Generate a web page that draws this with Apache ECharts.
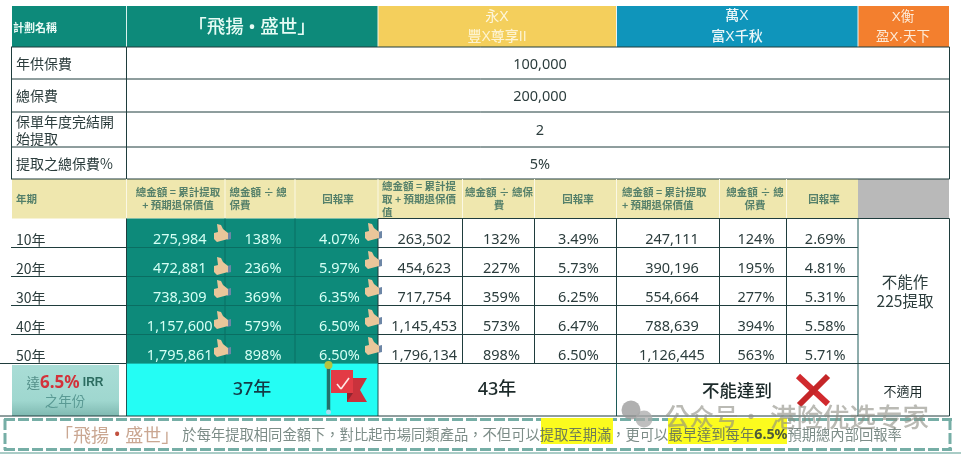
<!DOCTYPE html>
<html>
<head>
<meta charset="utf-8">
<style>
  html, body { margin: 0; padding: 0; background: #fff; }
  #chart { width: 961px; height: 454px; }
</style>
<script src="https://cdn.jsdelivr.net/npm/echarts@6/dist/echarts.min.js"></script>
</head>
<body>
<div id="chart"></div>
<script>
// ==================== Data ====================
var planTitle = '「飛揚 • 盛世」';
var rowHead = '計劃名稱';
var paramLabels = ['年供保費', '總保費', '保單年度完結開\n始提取', '提取之總保費%'];
var paramValues = ['100,000', '200,000', '2', '5%'];
var periodHead = '年期';
var years = ['10年', '20年', '30年', '40年', '50年'];

var feiyangTotal = ['275,984', '472,881', '738,309', '1,157,600', '1,795,861'];
var feiyangRatio = ['138%', '236%', '369%', '579%', '898%'];
var feiyangRate = ['4.07%', '5.97%', '6.35%', '6.50%', '6.50%'];
var yongTotal = ['263,502', '454,623', '717,754', '1,145,453', '1,796,134'];
var yongRatio = ['132%', '227%', '359%', '573%', '898%'];
var yongRate = ['3.49%', '5.73%', '6.25%', '6.47%', '6.50%'];
var wanTotal = ['247,111', '390,196', '554,664', '788,639', '1,126,445'];
var wanRatio = ['124%', '195%', '277%', '394%', '563%'];
var wanRate = ['2.69%', '4.81%', '5.31%', '5.58%', '5.71%'];

var yearsTo65 = ['37年', '43年', '不能達到', '不適用'];
var noWithdraw = '不能作\n225提取';

// ==================== Layout ====================
var colX = [12, 126.5, 225, 295, 378, 462.5, 534.5, 616.5, 719.5, 786.5, 858, 949.5];
var rowY = [6, 47, 79, 112, 147, 179, 218.5, 247.5, 276.5, 305.5, 334.5, 363.5, 416];
var thumbY1 = [224, 257, 280, 311, 339];
var thumbY3 = [223, 251, 279, 309, 337];

var CJK = '"Noto Sans CJK TC", "Noto Sans", sans-serif';
var NUM = '"Noto Sans", "Noto Sans CJK TC", sans-serif';
var LAT = '"Liberation Sans", "Noto Sans CJK TC", sans-serif';
var ink = '#2c3d3d';
var rule = '#1f3d3d';
var teal = '#0d8a7a';
var tealRule = '#0a6e62';
var soft = '#efe7ae';

var marks = [];
function rect(x0, y0, x1, y1, fill) { marks.push({ k: 'rect', x0: x0, y0: y0, x1: x1, y1: y1, fill: fill }); }
function line(x0, y0, x1, y1, color, w, dash) { marks.push({ k: 'line', x0: x0, y0: y0, x1: x1, y1: y1, color: color, w: w || 1, dash: dash }); }
function text(x, y, str, size, color, opt) {
  opt = opt || {};
  marks.push({ k: 'text', x: x, y: y, str: str, size: size, color: color, align: opt.align || 'center', weight: opt.weight || 'normal', font: opt.font || CJK, lh: opt.lh, rich: opt.rich });
}
function poly(pts, fill) { marks.push({ k: 'poly', pts: pts, fill: fill }); }
function dot(x, y, r, fill) { marks.push({ k: 'dot', x: x, y: y, r: r, fill: fill }); }

// ==================== Top header ====================
rect(colX[0], rowY[0], colX[1], rowY[1], teal);
rect(colX[1], rowY[0], colX[4], rowY[1], teal);
rect(colX[4], rowY[0], colX[7], rowY[1], '#f4cf5c');
rect(colX[7], rowY[0], colX[10], rowY[1], '#0f95bb');
rect(colX[10], rowY[0], colX[11] - 0.5, rowY[1], '#f37f2e');
line(colX[1], rowY[0], colX[1], rowY[1], '#d8f2ee');
line(colX[4], rowY[0], colX[4], rowY[1], '#f4f4e0');
line(colX[7], rowY[0], colX[7], rowY[1], '#e8f4f6');
line(colX[10], rowY[0], colX[10], rowY[1], '#e8f4f6');
text(13, 28, rowHead, 11, '#eafaf6', { align: 'left', weight: 'bold' });
text(252, 28, planTitle, 18.5, '#e6fbf4', { font: NUM, weight: '500' });
text(497, 17, '永X', 14, '#fdf6dc', { font: LAT });
text(497, 37, '豐X尊享II', 14, '#fdf3cf', { font: LAT, weight: '500' });
text(737, 16, '萬X', 14, '#eaf6f8', { font: LAT, weight: '500' });
text(737, 37, '富X千秋', 14, '#eaf6f8', { font: LAT, weight: '500' });
text(903, 17, 'X衡', 13.5, '#fdebd8', { font: LAT });
text(903, 37, '盈X·天下', 13.5, '#fdebd8', { font: LAT });

// ==================== Parameter rows ====================
for (var i = 0; i < paramLabels.length; i++) {
  var py0 = rowY[i + 1], py1 = rowY[i + 2];
  var pMid = (py0 + py1) / 2 + 1;
  text(16, pMid - 0.5, paramLabels[i], 14, ink, { align: 'left', lh: 17 });
  text(540, pMid + 0.5, paramValues[i], 14.5, ink, { font: NUM });
  line(11, py0, colX[11], py0, rule);
}
line(11.5, rowY[1], 11.5, rowY[5], rule);
line(colX[1], rowY[1], colX[1], rowY[5], rule);
line(colX[11], rowY[1], colX[11], rowY[5], rule);

// ==================== Column header band ====================
rect(colX[0], rowY[5], colX[10], rowY[6], soft);
rect(colX[10], rowY[5], colX[11] - 0.5, rowY[6], '#b9b9b9');
line(11, rowY[5], colX[11], rowY[5], rule);
for (i = 1; i < 10; i++) {
  line(colX[i], rowY[5], colX[i], rowY[6], '#fbf8e4');
}
var hGreen = '#55806a';
var headOpt = { weight: 'bold', lh: 13 };
var headLeft = { weight: 'bold', lh: 13, align: 'left' };
text(16, 199, periodHead, 10.5, hGreen, { align: 'left', weight: 'bold' });
text(178, 199, '總金額 = 累計提取\n+ 預期退保價值', 10.5, hGreen, headOpt);
text(229.5, 199, '總金額 ÷ 總\n保費', 10.5, hGreen, headLeft);
text(338, 199.5, '回報率', 10.5, hGreen, headOpt);
text(382, 199, '總金額 = 累計提\n取 + 預期退保價\n值', 10.5, hGreen, headLeft);
text(499, 199, '總金額 ÷ 總保\n費', 10.5, hGreen, headOpt);
text(578, 199.5, '回報率', 10.5, hGreen, headOpt);
text(622, 199, '總金額 = 累計提取\n+ 預期退保價值', 10.5, hGreen, headLeft);
text(755, 199, '總金額 ÷ 總\n保費', 10.5, hGreen, headOpt);
text(824, 199.5, '回報率', 10.5, hGreen, headOpt);

// ==================== Data rows ====================
var dataCols = [feiyangTotal, feiyangRatio, feiyangRate, yongTotal, yongRatio, yongRate, wanTotal, wanRatio, wanRate];
rect(colX[1], rowY[6], colX[4], rowY[11], teal);
for (i = 0; i < years.length; i++) {
  var rowBottom = rowY[7 + i];
  line(11, rowBottom, colX[1], rowBottom, rule);
  line(colX[1], rowBottom, colX[4], rowBottom, tealRule);
  line(colX[4], rowBottom, colX[10], rowBottom, rule);
  text(16, rowBottom - 8, years[i], 14, ink, { align: 'left' });
  for (var c = 0; c < dataCols.length; c++) {
    var mid = (colX[c + 1] + colX[c + 2]) / 2 + (c % 3 === 0 ? 4 : 3);
    text(mid, rowBottom - 8, dataCols[c][i], 14.5, c < 3 ? '#d4fff4' : ink, { font: NUM });
  }
}
line(colX[2], rowY[6], colX[2], rowY[11], tealRule);
line(colX[3], rowY[6], colX[3], rowY[11], tealRule);
line(colX[1], rowY[6], colX[1], rowY[11], rule);
for (i = 4; i < 10; i++) {
  line(colX[i], rowY[6], colX[i], rowY[11], rule);
}
line(colX[4], rowY[6], colX[10], rowY[6], rule);
line(colX[10], rowY[6], colX[10], rowY[12], '#1c5a58');
line(colX[11], rowY[6], colX[11], rowY[12], rule);
line(colX[10], rowY[6], colX[11], rowY[6], rule);
text(905, 292, noWithdraw, 15.5, ink, { lh: 19 });

// ==================== Thumb icons ====================
function thumb(x, y) {
  poly([[x + 14, y + 9], [x + 18, y + 8], [x + 18, y + 15], [x + 14, y + 16]], '#6d86a6');
  poly([[x + 1, y + 9], [x + 5, y + 8], [x + 4, y], [x + 8, y + 1], [x + 10, y + 5], [x + 15, y + 9], [x + 15, y + 15], [x + 4, y + 18], [x + 1, y + 15]], '#eac69a');
}
for (i = 0; i < thumbY1.length; i++) {
  thumb(213, thumbY1[i]);
  thumb(364, thumbY3[i]);
}

// ==================== Bottom row ====================
rect(12, 365, 119, 416, {
  type: 'linear', x: 0, y: 0, x2: 0, y2: 1,
  colorStops: [{ offset: 0, color: '#a9ddd6' }, { offset: 0.7, color: '#9fd7cf' }, { offset: 1, color: '#7fb9b1' }]
});
text(65, 383, '{a|達}{b|6.5%}{c| IRR}', 13, '#55908a', {
  rich: {
    a: { fontSize: 13.5, fontFamily: CJK, fill: '#55908a' },
    b: { fontSize: 17, fontFamily: NUM, fontWeight: 'bold', fill: '#d3323a' },
    c: { fontSize: 12, fontFamily: LAT, fontWeight: 'bold', fill: '#2c6c60' }
  }
});
text(65, 401, '之年份', 13.5, '#5a9a94');

rect(colX[1], rowY[11], colX[4], rowY[12], '#24fdf4');
line(colX[1], rowY[11], colX[1], rowY[12], '#1c5a58');
line(colX[4], rowY[11], colX[4], rowY[12], '#1c5a58');
line(colX[7], rowY[11], colX[7], rowY[12], '#1c5a58');
line(0, rowY[11], colX[1], rowY[11], rule);
line(colX[4], rowY[11], colX[11], rowY[11], rule);
line(0, rowY[12], colX[11], rowY[12], rule);
text(252, 390, yearsTo65[0], 18, '#143a46', { font: NUM, weight: '500' });
text(497, 390, yearsTo65[1], 18, '#1c2a2a', { font: NUM, weight: '500' });
text(737, 390, yearsTo65[2], 17.5, '#1c2a2a', { weight: '500' });
text(903, 391, yearsTo65[3], 13, '#1c2a2a');

// flag
line(328.5, 366, 328.5, 412, '#23706a', 3.5);
dot(328.5, 365, 4, '#b6c23e');
dot(328.5, 412, 2.5, '#a9dff0');
poly([[347, 378], [367, 378], [360, 390], [367, 402], [347, 402]], '#c9323c');
poly([[347, 393], [353, 393], [347, 402]], '#8e2530');
rect(331, 370, 353, 393, '#e33b45');
line(337, 384, 341, 389, '#ffe9e6', 1.6);
line(341, 389, 349, 378, '#ffe9e6', 1.6);

// cross
line(798, 376, 828, 404, '#d12a2e', 6);
line(828, 376, 799, 405, '#c52628', 6);

// ==================== Note box ====================
rect(4, 418, 952, 450, '#ffffff');
line(4, 419.5, 952, 419.5, '#76aea6', 3, [11, 3]);
line(4, 449.5, 952, 449.5, '#76aea6', 3, [11, 3]);
line(5, 419, 5, 450, '#76aea6', 3, [11, 3]);
line(950, 419, 950, 450, '#76aea6', 3, [11, 3]);
line(0, 453, 961, 453, '#a9ccc6', 2);
rect(541, 418, 613, 444, '#fbfb1e');
rect(668, 418, 787, 444, '#fbfb1e');
text(55, 435, '{t|「飛揚}{s| • }{t|盛世」}{g| 於每年提取相同金額下，對比起市場同類產品，不但可以}{h|提取至期滿}{g|，更可以}{h|最早達到每年}{hb|6.5%}{g|預期總內部回報率}', 14, '#7d8d88', {
  align: 'left',
  rich: {
    t: { fontSize: 18, fontFamily: CJK, fill: '#caa792' },
    s: { fontSize: 18, fontFamily: NUM, fill: '#c2503f' },
    g: { fontSize: 14.3, fontFamily: CJK, fill: '#7d8d88' },
    h: { fontSize: 14.3, fontFamily: CJK, fill: '#6f7d55' },
    hb: { fontSize: 14.3, fontFamily: NUM, fontWeight: 'bold', fill: '#4c5a3a' }
  }
});

// ==================== Watermark ====================
dot(631, 410, 9.5, 'rgba(150,150,150,0.75)');
dot(644, 419, 8.5, 'rgba(170,170,170,0.75)');
text(665, 417, '公众号', 24.5, 'rgba(140,140,130,0.6)', { align: 'left', weight: '500' });
text(751, 417, '·', 24.5, 'rgba(140,140,130,0.6)');
text(770, 417, '港险优选专家', 26.5, 'rgba(140,140,130,0.6)', { align: 'left', weight: '500' });

// ==================== Chart ====================
function renderMark(params, api) {
  var m = marks[params.dataIndex];
  if (m.k === 'rect') {
    var a = api.coord([m.x0, m.y0]), b = api.coord([m.x1, m.y1]);
    return { type: 'rect', shape: { x: a[0], y: a[1], width: b[0] - a[0], height: b[1] - a[1] }, style: { fill: m.fill } };
  }
  if (m.k === 'line') {
    var p = api.coord([m.x0, m.y0]), q = api.coord([m.x1, m.y1]);
    return { type: 'line', shape: { x1: p[0], y1: p[1], x2: q[0], y2: q[1] }, style: { stroke: m.color, lineWidth: m.w, lineDash: m.dash || null } };
  }
  if (m.k === 'poly') {
    return { type: 'polygon', shape: { points: m.pts.map(function(pt) { return api.coord(pt); }) }, style: { fill: m.fill } };
  }
  if (m.k === 'dot') {
    var d = api.coord([m.x, m.y]);
    return { type: 'circle', shape: { cx: d[0], cy: d[1], r: m.r }, style: { fill: m.fill } };
  }
  var t = api.coord([m.x, m.y]);
  return {
    type: 'text',
    style: {
      text: m.str, x: t[0], y: t[1], fill: m.color,
      textAlign: m.align, textVerticalAlign: 'middle',
      fontSize: m.size, fontFamily: m.font, fontWeight: m.weight,
      lineHeight: m.lh || undefined, rich: m.rich
    }
  };
}

var chart = echarts.init(document.getElementById('chart'), null, { renderer: 'canvas' });
chart.setOption({
  animation: false,
  backgroundColor: '#ffffff',
  grid: { left: 0, right: 0, top: 0, bottom: 0 },
  xAxis: { type: 'value', min: 0, max: 961, show: false },
  yAxis: { type: 'value', min: 0, max: 454, inverse: true, show: false },
  series: [{
    type: 'custom',
    silent: true,
    clip: false,
    coordinateSystem: 'cartesian2d',
    data: marks.map(function(m, idx) { return [idx]; }),
    renderItem: renderMark
  }]
});
window.addEventListener('resize', function() { chart.resize(); });
</script>
</body>
</html>
